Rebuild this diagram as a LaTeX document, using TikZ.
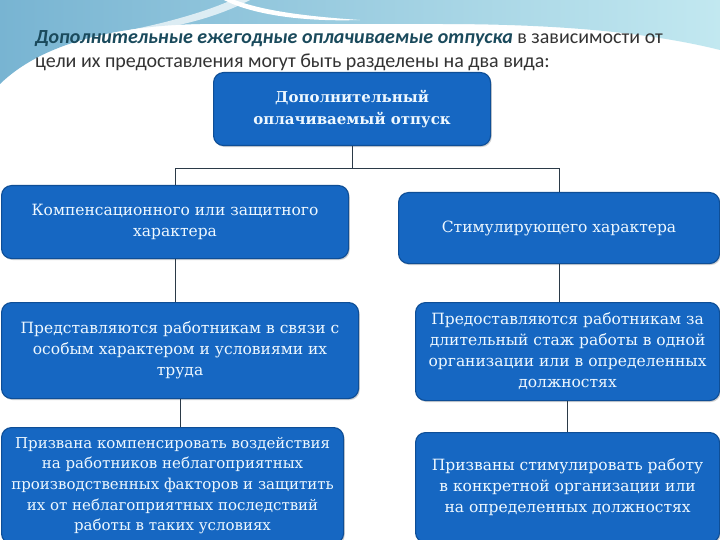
\documentclass[tikz,border=0pt]{standalone}
\usepackage{fontspec}
\setmainfont{DejaVu Serif}
\newfontfamily\titlefont{Carlito}
\usetikzlibrary{shadows,calc}
\definecolor{boxblue}{HTML}{1667C2}
\definecolor{boxedge}{HTML}{0E4E96}
\definecolor{boxtext}{HTML}{EEF8FF}
\definecolor{titleteal}{HTML}{1A4A5C}
\definecolor{titlegray}{HTML}{333333}
\definecolor{bgleft}{HTML}{78B4D2}
\definecolor{bgright}{HTML}{C2E8F0}
\definecolor{linecol}{HTML}{2B3A48}
\tikzset{
  bluebox/.style={draw=boxedge, line width=1.1pt, fill=boxblue, rounded corners=10pt,
    text=boxtext, align=center, inner sep=2pt, anchor=north west,
    font=\fontsize{15.5}{21}\selectfont,
    drop shadow={opacity=0.35, shadow xshift=1.2pt, shadow yshift=-1.5pt}},
  conn/.style={draw=linecol, line width=0.9pt}
}
\begin{document}
\begin{tikzpicture}[x=1pt,y=-1pt]
\useasboundingbox (0,0) rectangle (720,540);
\fill[white] (0,0) rectangle (720,540);
% header waves
\shade[left color=bgleft, right color=bgright]
  (0,0) -- (720,0) -- (720,50) .. controls (640,30) and (540,24) .. (440,24)
  -- (200,24) .. controls (110,26) and (40,45) .. (0,84) -- cycle;
\fill[white] (232,-1) .. controls (260,10) and (300,16) .. (360,20)
  .. controls (300,22) and (250,14) .. (222,-1) -- cycle;
\fill[white, opacity=0.7] (130,30) .. controls (160,24) and (200,14) .. (232,0)
  -- (250,0) .. controls (215,18) and (180,26) .. (140,32) -- cycle;
% title
\node[anchor=base west, inner sep=0pt, font=\titlefont\fontsize{20}{24}\selectfont, text=titlegray] (t1) at (35,44)
  {{\color{titleteal}\bfseries\itshape Дополнительные ежегодные оплачиваемые отпуска} в зависимости от};
\node[anchor=base west, inner sep=0pt, font=\titlefont\fontsize{20}{24}\selectfont, text=titlegray] (t2) at (35,68)
  {цели их предоставления могут быть разделены на два вида:};
% boxes
\node[bluebox, minimum width=277pt, minimum height=73pt, font=\bfseries\fontsize{15}{22}\selectfont] (top) at (213,72)
  {Дополнительный\\оплачиваемый отпуск};
\node[bluebox, minimum width=347pt, minimum height=73pt] (L1) at (1,185)
  {Компенсационного или защитного\\характера};
\node[bluebox, minimum width=321pt, minimum height=71pt] (R1) at (398,192)
  {Стимулирующего характера};
\node[bluebox, minimum width=357pt, minimum height=96pt] (L2) at (1,302)
  {Представляются работникам в связи с\\особым характером и условиями их\\труда};
\node[bluebox, minimum width=304pt, minimum height=98pt] (R2) at (415,302)
  {Предоставляются работникам за\\длительный стаж работы в одной\\организации или в определенных\\должностях};
\node[bluebox, minimum width=342pt, minimum height=116pt, font=\fontsize{15}{20.7}\selectfont] (L3) at (1,427)
  {Призвана компенсировать воздействия\\на работников неблагоприятных\\производственных факторов и защитить\\их от неблагоприятных последствий\\работы в таких условиях};
\node[bluebox, minimum width=304pt, minimum height=110pt] (R3) at (415,432)
  {Призваны стимулировать работу\\в конкретной организации или\\на определенных должностях};
% connectors
\coordinate (j) at ($(top.south)+(0,22)$);
\draw[conn] (top.south) -- (j);
\draw[conn] (j) -| (L1.north);
\draw[conn] (j) -| (R1.north);
\draw[conn] (L1.south) -- (L1.south |- L2.north);
\draw[conn] (L2.south) -- (L2.south |- L3.north);
\draw[conn] (R1.south) -- (R1.south |- R2.north);
\draw[conn] (R2.south) -- (R2.south |- R3.north);
\end{tikzpicture}
\end{document}
